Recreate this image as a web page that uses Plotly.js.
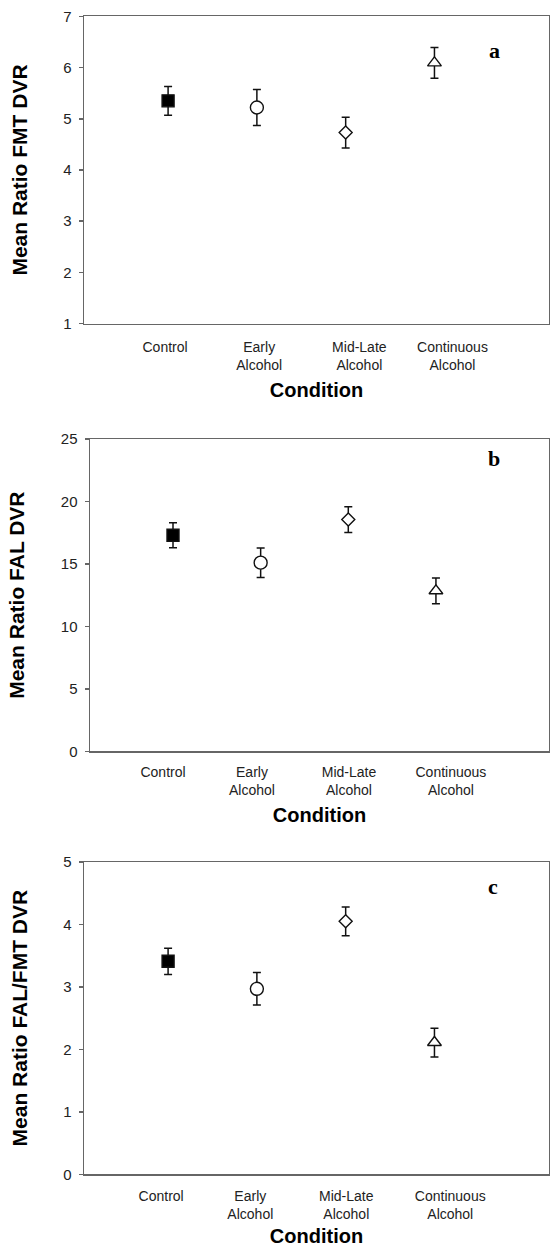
<!DOCTYPE html>
<html>
<head>
<meta charset="utf-8">
<script src="https://cdn.plot.ly/plotly-3.0.1.min.js"></script>
<style>html,body{margin:0;padding:0;background:#fff;}#chart{width:550px;height:1247px;}</style>
</head>
<body>
<div id="chart"></div>
<script>
// ---- data ----
var categories = ["Control", "Early Alcohol", "Mid-Late Alcohol", "Continuous Alcohol"];
var tickLabels = ["Control", "Early<br>Alcohol", "Mid-Late<br>Alcohol", "Continuous<br>Alcohol"];
var fmtMean = [5.35, 5.22, 4.73, 6.09];
var fmtErr  = [0.28, 0.35, 0.30, 0.30];
var falMean = [17.3, 15.1, 18.55, 12.85];
var falErr  = [1.0, 1.18, 1.03, 1.03];
var ratioMean = [3.41, 2.97, 4.05, 2.11];
var ratioErr  = [0.21, 0.26, 0.23, 0.23];
var yTitles = ["Mean Ratio FMT DVR", "Mean Ratio FAL DVR", "Mean Ratio FAL/FMT DVR"];
var panelLetters = ["a", "b", "c"];

// ---- styles ----
var symbols = ["square", "circle", "diamond", "triangle-up"];
var fills = ["#000", "#fff", "#fff", "#fff"];
var sizes = [12, 13, 10, 12];
var axisColor = "#666";
var textColor = "#222";
var FONT = "Liberation Sans, Arial, sans-serif";

var pos = categories.map(function(_, i){ return i; });

function panelTraces(means, errs, xa, ya) {
  return categories.map(function(c, i){
    return {
      type: "scatter", mode: "markers", name: c,
      x: [pos[i]], y: [means[i]], xaxis: xa, yaxis: ya,
      error_y: {type: "data", array: [errs[i]], visible: true, color: "#111", thickness: 1.5, width: 4},
      marker: {symbol: symbols[i], size: sizes[i], color: fills[i],
               line: {color: "#111", width: 1.4}},
      showlegend: false, hoverinfo: "x+y"
    };
  });
}

var traces = []
  .concat(panelTraces(fmtMean, fmtErr, "x", "y"))
  .concat(panelTraces(falMean, falErr, "x2", "y2"))
  .concat(panelTraces(ratioMean, ratioErr, "x3", "y3"));

var H = 1247, W = 550;
// panel pixel boxes [left, top, bottom]
var boxes = [[84, 16.3, 323.7], [90, 439, 751.3], [84, 862, 1174.3]];
var right = 549;
var yRanges = [[1, 7], [0, 25], [0, 5]];
var yTicks = [[1,2,3,4,5,6,7], [0,5,10,15,20,25], [0,1,2,3,4,5]];
var labelOffsets = [[-0.034, 1.026, 2.154, 3.203], [-0.114, 0.901, 2.008, 3.171], [-0.078, 0.926, 2.007, 3.178]];
var labelStandoff = [10, 7, 8];
var letterPos = [[0.882, 0.89], [0.880, 0.936], [0.880, 0.92]];
var xRange = [-0.947, 4.29];

var layout = {
  width: W, height: H,
  margin: {l: 0, r: 0, t: 0, b: 0},
  paper_bgcolor: "#fff", plot_bgcolor: "#fff",
  font: {family: FONT, color: textColor},
  showlegend: false,
  annotations: []
};

for (var p = 0; p < 3; p++) {
  var suf = p === 0 ? "" : String(p + 1);
  var b = boxes[p];
  layout["xaxis" + suf] = {
    domain: [b[0] / W, right / W],
    anchor: "y" + suf,
    range: xRange,
    tickmode: "array",
    tickvals: labelOffsets[p],
    ticktext: tickLabels,
    ticks: "", ticklabelstandoff: labelStandoff[p],
    tickfont: {size: 14, family: FONT, color: textColor},
    showline: true, linecolor: axisColor, linewidth: 1.5, mirror: true,
    showgrid: false, zeroline: false, fixedrange: true,
    title: {text: "Condition", font: {size: 20, family: FONT, color: "#000", weight: "bold"}, standoff: 11}
  };
  layout["yaxis" + suf] = {
    domain: [1 - b[2] / H, 1 - b[1] / H],
    anchor: "x" + suf,
    range: yRanges[p],
    tickmode: "array", tickvals: yTicks[p],
    ticks: "outside", ticklen: 4, tickcolor: axisColor, tickwidth: 1.5,
    ticklabelstandoff: 4,
    tickfont: {size: 15, family: FONT, color: textColor},
    showline: true, linecolor: axisColor, linewidth: 1.5, mirror: true,
    showgrid: false, zeroline: false, fixedrange: true,
    title: {text: yTitles[p], font: {size: 21, family: FONT, color: "#000", weight: "bold"}, standoff: 30}
  };
  layout.annotations.push({
    xref: "x" + suf + " domain", yref: "y" + suf + " domain",
    x: letterPos[p][0], y: letterPos[p][1], xanchor: "center", yanchor: "middle",
    text: panelLetters[p], showarrow: false,
    font: {family: "Liberation Serif, Times New Roman, serif", size: 22, color: "#000", weight: "bold"}
  });
}

Plotly.newPlot("chart", traces, layout, {staticPlot: true});
</script>
</body>
</html>
